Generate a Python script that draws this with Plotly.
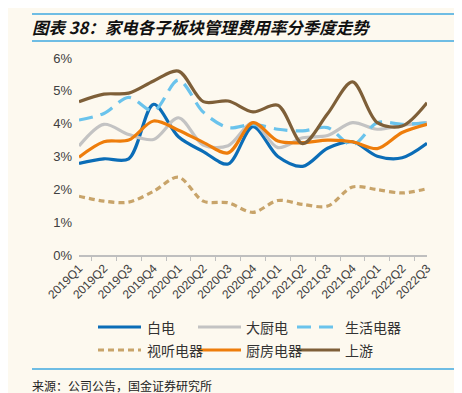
import plotly.graph_objects as go

quarters = ["2019Q1", "2019Q2", "2019Q3", "2019Q4", "2020Q1", "2020Q2", "2020Q3", "2020Q4",
            "2021Q1", "2021Q2", "2021Q3", "2021Q4", "2022Q1", "2022Q2", "2022Q3"]

baidian = [2.79, 2.93, 2.93, 4.59, 3.6, 3.15, 2.77, 3.91, 3.0, 2.7, 3.25, 3.45, 3.01, 2.96, 3.4]
dachudian = [3.32, 3.98, 3.67, 3.52, 4.18, 3.35, 3.33, 4.03, 3.27, 3.57, 3.64, 4.03, 3.83, 3.95, 4.03]
shenghuo = [4.11, 4.31, 4.8, 4.39, 5.33, 4.35, 3.88, 3.98, 3.83, 3.78, 3.88, 3.35, 4.03, 3.98, 4.03]
shiting = [1.79, 1.64, 1.61, 1.94, 2.37, 1.64, 1.59, 1.30, 1.66, 1.54, 1.49, 2.07, 1.99, 1.89, 2.02]
chufang = [2.98, 3.45, 3.5, 4.08, 3.8, 3.43, 3.11, 4.03, 3.47, 3.42, 3.5, 3.45, 3.24, 3.73, 3.98]
shangyou = [4.67, 4.9, 4.93, 5.3, 5.6, 4.67, 4.69, 4.36, 4.56, 3.39, 4.3, 5.27, 4.03, 3.93, 4.64]

series = [
    ("白电", baidian, "#0B6DB7", "solid"),
    ("大厨电", dachudian, "#C3C3C3", "solid"),
    ("生活电器", shenghuo, "#6AC3EC", "14px,8px"),
    ("视听电器", shiting, "#C8A46A", "6px,4px"),
    ("厨房电器", chufang, "#EE7D0B", "solid"),
    ("上游", shangyou, "#7E5F38", "solid"),
]

BG = "#FDF9EF"
FONT = "Liberation Sans, Noto Sans CJK SC, sans-serif"
CJK = "Noto Sans CJK SC, sans-serif"

W, H = 462, 393
L, R, T, B = 71, 419, 50, 247  # plot area in pixels


def px(x):
    return (x - L) / (R - L)


def py(y):
    return (B - y) / (B - T)


fig = go.Figure()
for name, vals, color, dash in series:
    fig.add_trace(go.Scatter(
        x=quarters, y=vals, name=name, mode="lines", showlegend=False,
        line=dict(color=color, width=3.2, dash=dash, shape="spline", smoothing=0.9),
    ))

fig.update_layout(
    width=W, height=H,
    paper_bgcolor=BG, plot_bgcolor=BG,
    margin=dict(l=L, r=W - R, t=T, b=H - B, autoexpand=False),
    font=dict(family=FONT, color="#404040", size=12),
    showlegend=False,
)

fig.update_xaxes(
    type="category", showgrid=False, showline=True, linecolor="#BFBFBF", linewidth=1.5,
    ticks="outside", tickson="boundaries", ticklen=4, tickcolor="#BFBFBF",
    tickangle=-45, tickfont=dict(size=12, color="#404040"), zeroline=False,
)
fig.update_yaxes(
    range=[0, 6], dtick=1, ticksuffix="%", showgrid=False, showline=False, zeroline=False,
    tickfont=dict(size=13, color="#404040"), ticklabelstandoff=6,
)

# Manual legend (2 rows x 3 columns)
leg_cols = [(90, 133, 137), (190, 233, 236), (289, 332, 335)]
leg_rows = [319, 342]
for i, (name, vals, color, dash) in enumerate(series):
    r, c = divmod(i, 3)
    x0, x1, xt = leg_cols[c]
    yy = py(leg_rows[r])
    fig.add_shape(type="line", xref="paper", yref="paper", x0=px(x0), x1=px(x1), y0=yy, y1=yy,
                  line=dict(color=color, width=3.2, dash=dash))
    fig.add_annotation(text=name, xref="paper", yref="paper", x=px(xt), y=yy,
                       xanchor="left", yanchor="middle", showarrow=False,
                       font=dict(size=14, family=CJK, color="#333333"))

# Title & decorative rules
RULE = dict(color="#3FA9E0", width=1.5)
for yline in (6, 33, 361):
    fig.add_shape(type="line", xref="paper", yref="paper", x0=px(24), x1=px(449),
                  y0=py(yline), y1=py(yline), line=RULE)
fig.add_annotation(text="图表 38：家电各子板块管理费用率分季度走势", xref="paper", yref="paper",
                   x=px(22), y=py(18.5), xanchor="left", yanchor="middle", showarrow=False,
                   font=dict(size=16.5, family=CJK, color="#111111",
                             style="italic", weight="bold"))
fig.add_annotation(text="来源：公司公告，国金证券研究所", xref="paper", yref="paper",
                   x=px(22), y=py(377), xanchor="left", yanchor="middle", showarrow=False,
                   font=dict(size=12, family=CJK, color="#222222"))

fig.write_html("out.html")
